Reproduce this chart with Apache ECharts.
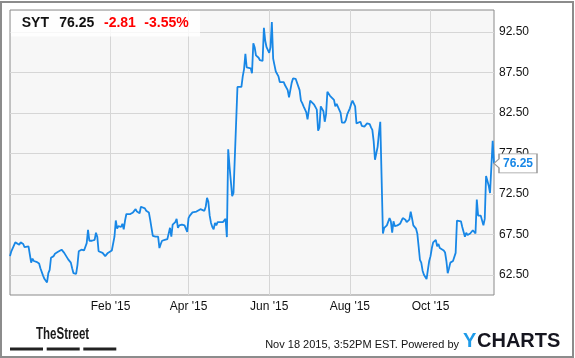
<!DOCTYPE html>
<html><head><meta charset="utf-8">
<script src="https://cdn.jsdelivr.net/npm/echarts@6/dist/echarts.min.js"></script>
<style>html,body{margin:0;padding:0;background:#fff}#c{width:575px;height:358px}</style>
</head><body><div id="c"></div>
<script>
const dates = [
'2014-11-17','2014-11-18','2014-11-19','2014-11-21','2014-11-22','2014-11-24','2014-11-25','2014-11-27','2014-11-28',
'2014-12-01','2014-12-02','2014-12-03','2014-12-04','2014-12-05','2014-12-06','2014-12-07','2014-12-09','2014-12-10','2014-12-11','2014-12-12','2014-12-13','2014-12-14','2014-12-15','2014-12-16','2014-12-17','2014-12-18','2014-12-20','2014-12-21','2014-12-23','2014-12-24','2014-12-26','2014-12-27','2014-12-28','2014-12-29','2014-12-31',
'2015-01-01','2015-01-02','2015-01-03','2015-01-04','2015-01-05','2015-01-06','2015-01-07','2015-01-08','2015-01-10','2015-01-11','2015-01-12','2015-01-13','2015-01-14','2015-01-15','2015-01-16','2015-01-17','2015-01-18','2015-01-20','2015-01-21','2015-01-22','2015-01-23','2015-01-24','2015-01-26','2015-01-27','2015-01-28','2015-01-29','2015-01-30','2015-01-31',
'2015-02-02','2015-02-03','2015-02-04','2015-02-05','2015-02-06','2015-02-07','2015-02-08','2015-02-09','2015-02-10','2015-02-11','2015-02-12','2015-02-13','2015-02-14','2015-02-16','2015-02-18','2015-02-19','2015-02-20','2015-02-21','2015-02-22','2015-02-23','2015-02-24','2015-02-25','2015-02-27','2015-02-28',
'2015-03-02','2015-03-03','2015-03-04','2015-03-05','2015-03-07','2015-03-09','2015-03-10','2015-03-11','2015-03-12','2015-03-14','2015-03-16','2015-03-17','2015-03-18','2015-03-19','2015-03-20','2015-03-22','2015-03-23','2015-03-24','2015-03-25','2015-03-27','2015-03-28','2015-03-29','2015-03-31',
'2015-04-01','2015-04-02','2015-04-04','2015-04-05','2015-04-07','2015-04-08','2015-04-10','2015-04-11','2015-04-13','2015-04-14','2015-04-15','2015-04-16','2015-04-17','2015-04-18','2015-04-19','2015-04-20','2015-04-21','2015-04-22','2015-04-23','2015-04-25','2015-04-27','2015-04-28','2015-04-29','2015-04-30',
'2015-05-01','2015-05-02','2015-05-04','2015-05-05','2015-05-06','2015-05-08','2015-05-09','2015-05-11','2015-05-12','2015-05-13','2015-05-14','2015-05-15','2015-05-16','2015-05-18','2015-05-19','2015-05-20','2015-05-21','2015-05-22','2015-05-24','2015-05-25','2015-05-27','2015-05-28','2015-05-29','2015-05-30',
'2015-06-01','2015-06-02','2015-06-03','2015-06-04','2015-06-05','2015-06-06','2015-06-08','2015-06-09','2015-06-10','2015-06-12','2015-06-13','2015-06-15','2015-06-16','2015-06-18','2015-06-19','2015-06-21','2015-06-22','2015-06-24','2015-06-25','2015-06-26','2015-06-27','2015-06-29','2015-06-30',
'2015-07-01','2015-07-02','2015-07-03','2015-07-05','2015-07-06','2015-07-07','2015-07-08','2015-07-09','2015-07-10','2015-07-12','2015-07-13','2015-07-14','2015-07-15','2015-07-17','2015-07-18','2015-07-20','2015-07-21','2015-07-22','2015-07-23','2015-07-25','2015-07-26','2015-07-28','2015-07-29','2015-07-30',
'2015-08-01','2015-08-02','2015-08-03','2015-08-05','2015-08-06','2015-08-07','2015-08-09','2015-08-10','2015-08-11','2015-08-12','2015-08-13','2015-08-14','2015-08-16','2015-08-17','2015-08-18','2015-08-19','2015-08-20','2015-08-22','2015-08-23','2015-08-24','2015-08-26','2015-08-27','2015-08-28','2015-08-29','2015-08-30','2015-08-31',
'2015-09-01','2015-09-02','2015-09-03','2015-09-04','2015-09-05','2015-09-06','2015-09-08','2015-09-09','2015-09-10','2015-09-12','2015-09-13','2015-09-15','2015-09-16','2015-09-17','2015-09-18','2015-09-20','2015-09-21','2015-09-22','2015-09-23','2015-09-24','2015-09-25','2015-09-26','2015-09-28','2015-09-29','2015-09-30',
'2015-10-01','2015-10-02','2015-10-03','2015-10-05','2015-10-06','2015-10-07','2015-10-08','2015-10-09','2015-10-11','2015-10-12','2015-10-13','2015-10-14','2015-10-15','2015-10-16','2015-10-17','2015-10-18','2015-10-20','2015-10-21','2015-10-22','2015-10-24','2015-10-25','2015-10-27','2015-10-28','2015-10-29','2015-10-31',
'2015-11-01','2015-11-02','2015-11-03','2015-11-04','2015-11-05','2015-11-06','2015-11-08','2015-11-09','2015-11-10','2015-11-11','2015-11-12','2015-11-13','2015-11-14','2015-11-15','2015-11-17','2015-11-18'
];
const prices = [
64.8,65.4,65.3,66.5,66.3,66.2,66.5,66.3,65.9,
66.0,65.0,64.0,64.5,64.2,64.1,64.1,63.9,63.3,63.1,62.4,62.0,61.8,61.55,62.7,63.1,64.6,64.8,65.1,65.3,65.5,65.6,65.4,65.2,65.0,64.4,
64.3,64.0,63.3,62.7,62.55,62.6,63.7,65.4,65.6,65.8,65.5,65.4,66.4,68.05,66.7,66.6,66.7,66.8,67.7,67.2,65.4,65.4,65.2,65.1,64.8,65.0,65.2,65.3,
65.5,65.6,67.2,69.2,68.2,68.5,68.4,68.4,68.8,68.1,69.2,70.0,70.0,70.0,70.2,70.4,70.6,70.3,70.2,70.1,70.9,71.0,70.7,70.4,
70.2,69.3,68.3,67.3,67.2,67.2,65.8,66.3,66.7,66.8,66.9,66.8,68.3,67.2,68.7,69.0,69.4,68.3,68.6,68.7,68.7,68.6,67.8,
69.5,69.8,70.2,70.4,70.3,70.3,70.6,70.5,70.4,70.9,72.0,71.5,69.8,68.9,68.4,68.1,68.9,68.6,69.0,69.0,69.0,68.9,69.4,67.15,
78.0,75.9,72.2,72.6,72.7,85.7,85.8,85.7,87.0,87.9,89.8,88.1,88.0,88.0,87.4,91.1,90.6,89.6,89.3,89.0,88.9,93.0,91.4,90.6,
89.9,90.6,93.7,89.2,88.4,87.6,87.0,86.3,86.1,86.3,85.9,85.3,84.4,86.2,86.75,86.7,86.5,85.3,84.0,83.7,83.3,82.6,81.7,
81.7,84.0,83.8,83.5,83.2,82.9,80.3,80.7,83.3,82.7,81.4,82.3,85.1,84.6,84.4,84.1,83.3,83.6,83.4,82.5,81.3,81.3,81.6,82.3,
83.05,83.6,84.0,83.3,81.2,81.0,81.4,80.9,80.7,80.8,80.7,81.2,81.1,80.7,80.4,79.0,76.7,78.3,80.0,81.4,67.6,68.3,68.2,68.6,68.7,69.5,
69.1,67.7,69.1,68.5,68.6,68.6,68.8,68.8,69.5,69.3,69.0,69.3,70.3,69.5,68.6,68.2,67.6,66.0,64.35,64.0,63.0,62.5,61.97,63.1,64.2,
64.8,65.8,66.5,66.8,66.0,66.3,65.8,66.0,65.5,65.25,64.2,62.7,63.3,64.0,64.0,64.2,65.2,69.2,69.3,69.1,68.4,67.2,67.7,67.4,67.6,
67.7,68.0,68.2,67.6,71.8,69.8,69.8,69.7,68.6,69.4,74.7,74.1,73.5,72.6,79.06,76.25
];
const yTicks = [62.5, 67.5, 72.5, 77.5, 82.5, 87.5, 92.5];
const xTicks = ['2015-02-01', '2015-04-01', '2015-06-01', '2015-08-01', '2015-10-01'];
const xRange = ['2014-11-17', '2015-11-18'];
const monthNames = ['Jan','Feb','Mar','Apr','May','Jun','Jul','Aug','Sep','Oct','Nov','Dec'];
const ticker = 'SYT';
const lastPrice = '76.25';
const change = '-2.81';
const changePct = '-3.55%';
const stamp = 'Nov 18 2015, 3:52PM EST. Powered by';

const FONT = '"Liberation Sans", Arial, sans-serif';
const BLUE = '#1887e6';
const toTs = s => { const p = s.split('-').map(Number); return Date.UTC(p[0], p[1] - 1, p[2]); };
const chart = echarts.init(document.getElementById('c'), null, {renderer: 'canvas'});
const seriesData = dates.map((d, i) => [toTs(d), prices[i]]);
const last = seriesData[seriesData.length - 1];
const xTickTs = xTicks.map(toTs);

chart.setOption({
  animation: false,
  backgroundColor: '#fff',
  grid: {left: 10, top: 10, width: 484, height: 285, show: true, backgroundColor: '#f7f7f7', borderColor: '#8a8a8a', borderWidth: 1, containLabel: false},
  xAxis: {
    type: 'value', min: toTs(xRange[0]), max: toTs(xRange[1]), scale: true,
    axisLine: {show: false}, axisTick: {show: false, customValues: xTickTs},
    splitLine: {show: true, lineStyle: {color: '#d6d6d6', width: 1}},
    axisLabel: {customValues: xTickTs, margin: 6, fontSize: 12, color: '#111', fontFamily: FONT,
      formatter: v => { const d = new Date(v); return monthNames[d.getUTCMonth()] + " '" + String(d.getUTCFullYear()).slice(2); }}
  },
  yAxis: {
    type: 'value', position: 'right', min: 60, max: 95.2, scale: true,
    axisLine: {show: false}, axisTick: {show: false, customValues: yTicks},
    splitLine: {show: true, lineStyle: {color: '#d6d6d6', width: 1}},
    axisLabel: {customValues: yTicks, margin: 5, fontSize: 12, color: '#111', fontFamily: FONT, formatter: v => v.toFixed(2)}
  },
  series: [{
    type: 'line', data: seriesData, showSymbol: false, symbol: 'none',
    lineStyle: {color: BLUE, width: 1.8}, itemStyle: {color: BLUE},
    emphasis: {disabled: true}, silent: true,
    markPoint: {
      symbol: 'path://M0,9.5 L5,5 L5,0 L43,0 L43,19 L5,19 L5,14 Z',
      symbolSize: [43, 19], symbolKeepAspect: false, symbolOffset: [21.5, 0],
      itemStyle: {color: '#fff', borderColor: '#999', borderWidth: 1},
      label: {show: true, position: 'inside', offset: [2.5, 0], formatter: () => lastPrice, color: BLUE, fontWeight: 'bold', fontSize: 12, fontFamily: FONT},
      data: [{coord: last}]
    }
  }],
  graphic: [
    {type: 'rect', z: 100, shape: {x: 1, y: 2, width: 572, height: 355}, style: {fill: 'none', stroke: '#8c8c8c', lineWidth: 2}},
    {type: 'rect', z: 90, shape: {x: 11, y: 11, width: 189, height: 25.5}, style: {fill: 'rgba(255,255,255,0.8)'}},
    {type: 'text', z: 95, x: 21.7, y: 23.5, style: {text: ticker, fill: '#111', font: 'bold 14px ' + FONT, verticalAlign: 'middle'}},
    {type: 'text', z: 95, x: 59.3, y: 23.5, style: {text: lastPrice, fill: '#111', font: 'bold 14px ' + FONT, verticalAlign: 'middle'}},
    {type: 'text', z: 95, x: 104, y: 23.5, style: {text: change, fill: '#ff0000', font: 'bold 14px ' + FONT, verticalAlign: 'middle'}},
    {type: 'text', z: 95, x: 144.3, y: 23.5, style: {text: changePct, fill: '#ff0000', font: 'bold 14px ' + FONT, verticalAlign: 'middle'}},
    {type: 'text', z: 95, x: 36, y: 335, scaleX: 0.72, style: {text: 'TheStreet', fill: '#1a1a1a', font: 'bold 16px ' + FONT, verticalAlign: 'middle'}},
    {type: 'rect', z: 95, shape: {x: 10, y: 347.5, width: 33, height: 3}, style: {fill: '#222'}},
    {type: 'rect', z: 95, shape: {x: 46.7, y: 347.5, width: 33, height: 3}, style: {fill: '#222'}},
    {type: 'rect', z: 95, shape: {x: 83.3, y: 347.5, width: 33, height: 3}, style: {fill: '#222'}},
    {type: 'text', z: 95, x: 459, y: 344.5, style: {text: stamp, fill: '#111', font: '11px ' + FONT, align: 'right', verticalAlign: 'middle'}},
    {type: 'text', z: 95, x: 463, y: 341.7, style: {text: 'Y', fill: '#1e9be9', font: 'bold 20px ' + FONT, verticalAlign: 'middle'}},
    {type: 'text', z: 95, x: 477, y: 341.7, style: {text: 'CHARTS', fill: '#15151f', font: 'bold 20px ' + FONT, verticalAlign: 'middle'}}
  ]
});
</script></body></html>
